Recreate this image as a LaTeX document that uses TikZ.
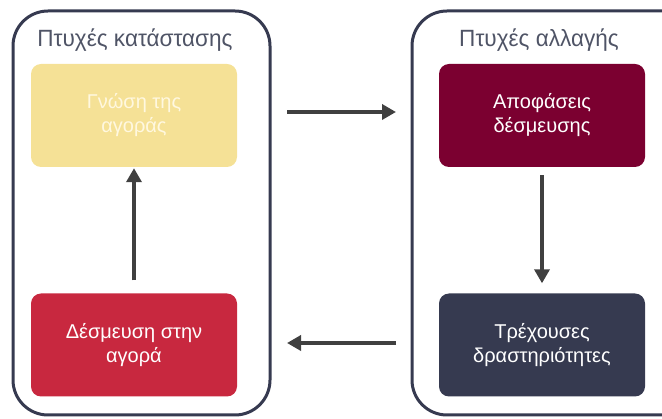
\documentclass[tikz,border=0pt]{standalone}
\usepackage{fontspec}
\setmainfont{Liberation Sans}
\usetikzlibrary{arrows.meta}
\definecolor{navy}{HTML}{363A50}
\definecolor{ttl}{HTML}{4F5466}
\definecolor{yel}{HTML}{F5E196}
\definecolor{mar}{HTML}{7B0030}
\definecolor{rd}{HTML}{C8283F}
\definecolor{arr}{HTML}{404040}
\definecolor{paletext}{HTML}{FFF8E0}
\begin{document}
\begin{tikzpicture}[x=1pt,y=-1pt,
  outer/.style={draw=navy,line width=3pt,rounded corners=35pt},
  inner/.style={rounded corners=10pt,minimum width=206pt,minimum height=103pt,align=center,inner sep=0pt,font=\fontsize{20}{24}\selectfont},
  ttlstyle/.style={text=ttl,font=\fontsize{23.5}{27}\selectfont},
  flow/.style={draw=arr,line width=4pt,-{Triangle[length=14pt,width=15pt]}}]
\useasboundingbox (0,0) rectangle (662,419);
\draw[outer] (13,11) rectangle (270,415);
\draw[outer] (412,11) rectangle (700,415);
\node[ttlstyle] (t1) at (135,40) {\addfontfeatures{FakeStretch=0.96}Πτυχές κατάστασης};
\node[ttlstyle] (t2) at (539,40) {\addfontfeatures{FakeStretch=0.96}Πτυχές αλλαγής};
\node[inner,fill=yel,text=paletext] (a) at (134,115.5) {Γνώση της\\αγοράς};
\node[inner,fill=rd,text=white] (b) at (134,345) {Δέσμευση στην\\αγορά};
\node[inner,fill=mar,text=white] (c) at (542,115.5) {Αποφάσεις\\δέσμευσης};
\node[inner,fill=navy,text=white] (d) at (542,345) {Τρέχουσες\\δραστηριότητες};
\coordinate (h1s) at (287,112);
\coordinate (h1e) at (396,112);
\coordinate (h2s) at (396,343);
\coordinate (h2e) at (287,343);
\draw[flow] (h1s) -- (h1e);
\draw[flow] (h2s) -- (h2e);
\draw[flow] ([yshift=13pt]b.north) -- ([yshift=-1pt]a.south);
\draw[flow] ([yshift=-8pt]c.south) -- ([yshift=10pt]d.north);
\end{tikzpicture}
\end{document}
